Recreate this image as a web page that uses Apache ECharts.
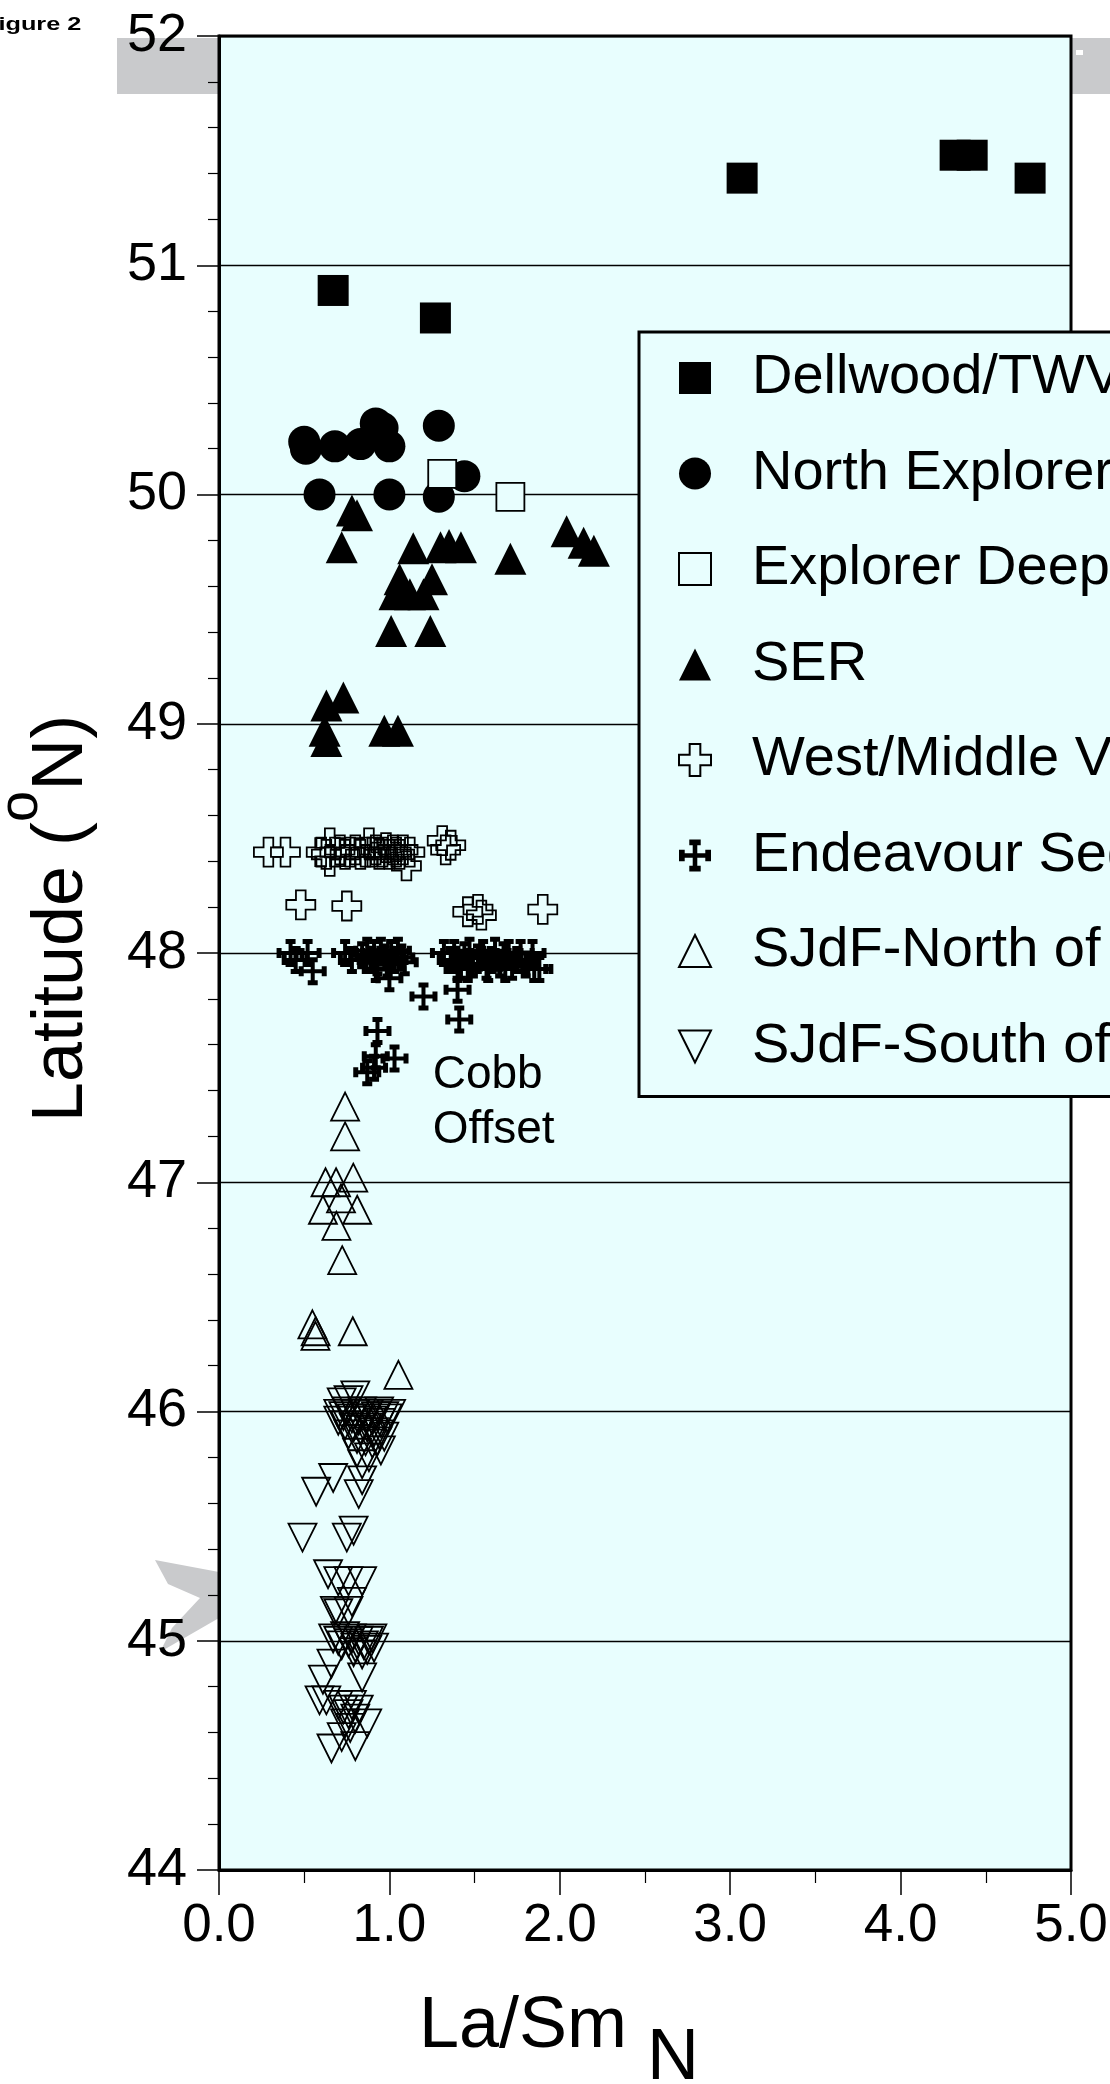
<!DOCTYPE html>
<html>
<head>
<meta charset="utf-8">
<title>Figure 2 – La/Sm N versus latitude</title>
<script src="https://cdn.jsdelivr.net/npm/echarts@6/dist/echarts.min.js"></script>
<style>
  html, body { margin: 0; padding: 0; background: #ffffff; }
  #chart { width: 1110px; height: 2084px; }
</style>
</head>
<body>
<div id="chart"></div>
<script>
// ---- data: [La/Sm N, latitude °N] ----
const dellwood = [[0.67,50.89],[1.27,50.77],[3.07,51.38],[4.32,51.48],[4.42,51.48],[4.76,51.38]];

const northExplorer = [[0.50,50.23],[0.51,50.20],[0.68,50.21],[0.83,50.22],[0.92,50.31],[0.96,50.29],
  [1.00,50.21],[1.29,50.30],[0.59,50.00],[1.00,50.00],[1.29,49.99],[1.44,50.08]];

const explorerDeep = [[1.31,50.09],[1.71,49.99]];

const ser = [[0.78,49.93],[0.81,49.91],[0.72,49.77],[1.14,49.765],[1.30,49.77],[1.35,49.78],[1.42,49.77],
  [1.71,49.72],[2.04,49.84],[2.14,49.79],[2.20,49.755],[1.06,49.63],[1.25,49.63],[1.03,49.565],[1.12,49.565],
  [1.20,49.565],[1.01,49.405],[1.24,49.405],[0.63,49.08],[0.73,49.115],[0.62,48.97],[0.63,48.925],
  [0.97,48.97],[1.05,48.97]];

const westMiddle = [[0.29,48.44],[0.39,48.44],[0.60,48.44],[0.63,48.43],[0.65,48.48],[0.65,48.40],[0.68,48.44],
  [0.71,48.45],[0.74,48.43],[0.77,48.44],[0.80,48.45],[0.83,48.43],[0.86,48.44],[0.88,48.48],[0.90,48.44],
  [0.92,48.45],[0.94,48.43],[0.96,48.44],[0.98,48.46],[1.00,48.43],[1.02,48.45],[1.04,48.44],[1.06,48.43],
  [1.08,48.45],[1.10,48.38],[1.12,48.44],[1.31,48.49],[1.33,48.45],[1.36,48.47],
  [0.48,48.21],[0.75,48.205],[1.46,48.18],[1.52,48.19],[1.54,48.165],[1.90,48.19]];

const endeavour = [[0.42,48.00],[0.52,48.00],[0.45,47.97],[0.55,47.92],[0.74,48.00],[0.78,47.97],
  [0.84,47.99],[0.87,48.01],[0.89,47.97],[0.91,48.00],[0.93,47.96],[0.95,48.01],[0.97,47.98],[0.99,47.95],
  [1.01,48.00],[1.03,47.97],[1.05,48.01],[1.07,47.98],[1.09,47.96],[1.00,47.89],[0.92,47.93],
  [1.20,47.81],[1.40,47.84],[1.41,47.71],[0.93,47.66],[1.03,47.54],[0.92,47.55],[0.87,47.48],[0.91,47.50],
  [1.32,48.00],[1.36,47.97],[1.38,48.00],[1.42,47.94],[1.44,47.99],[1.47,48.01],[1.49,47.95],[1.52,47.98],
  [1.55,48.00],[1.57,47.94],[1.60,47.97],[1.62,48.01],[1.65,47.95],[1.67,47.99],[1.70,48.00],[1.72,47.94],
  [1.75,47.97],[1.77,48.00],[1.80,47.95],[1.84,48.00],[1.85,47.93],[1.88,47.93],[1.40,47.93],[1.46,47.93],
  [1.58,47.93],[1.68,47.93]];

const sjdfNorth = [[0.74,47.33],[0.74,47.20],[0.625,47.00],[0.687,47.00],[0.788,47.02],[0.716,46.93],
  [0.61,46.88],[0.811,46.88],[0.689,46.81],[0.723,46.66],[0.548,46.38],[0.567,46.35],[0.566,46.33],
  [0.785,46.35],[1.053,46.16]];

const sjdfSouth = [[0.80,46.07],[0.72,46.04],[0.76,46.05],[0.94,46.00],[0.70,45.99],[0.73,45.98],[0.75,46.00],
  [0.78,45.97],[0.80,45.99],[0.82,45.96],[0.84,46.00],[0.86,45.97],[0.88,45.99],[0.90,45.96],[0.92,45.98],
  [0.95,45.95],[0.97,45.98],[0.99,45.97],[1.01,45.99],[0.70,45.96],[0.74,45.94],[0.79,45.93],[0.83,45.92],
  [0.87,45.93],[0.91,45.91],[0.94,45.90],[0.76,45.90],[0.81,45.88],[0.86,45.87],[0.90,45.86],[0.93,45.87],
  [0.97,45.89],[0.81,45.82],[0.95,45.83],[0.88,45.80],[0.84,45.77],[0.67,45.71],[0.84,45.70],[0.57,45.65],
  [0.82,45.64],[0.49,45.45],[0.75,45.45],[0.79,45.48],[0.64,45.29],[0.70,45.26],[0.76,45.26],[0.84,45.26],
  [0.68,45.13],[0.70,45.12],[0.76,45.13],[0.78,45.17],[0.67,45.01],[0.70,45.00],[0.72,44.98],[0.74,45.02],
  [0.76,44.99],[0.78,45.01],[0.80,44.97],[0.82,45.00],[0.85,44.98],[0.88,45.00],[0.90,45.01],[0.91,44.97],
  [0.79,44.95],[0.84,44.94],[0.87,44.96],[0.66,44.90],[0.61,44.83],[0.84,44.84],[0.59,44.74],[0.63,44.74],
  [0.70,44.72],[0.73,44.70],[0.76,44.68],[0.78,44.72],[0.80,44.66],[0.82,44.70],[0.74,44.64],[0.77,44.62],
  [0.87,44.64],[0.66,44.53],[0.80,44.54],[0.72,44.58]];

const seriesNames = ['Dellwood/TWV', 'North Explorer', 'Explorer Deep', 'SER',
  'West/Middle Valley', 'Endeavour Segment', 'SJdF-North of Axial', 'SJdF-South of Axial'];

const xTickLabels = ['0.0', '1.0', '2.0', '3.0', '4.0', '5.0'];
const yTickLabels = ['44', '45', '46', '47', '48', '49', '50', '51', '52'];

const cobbLabel = 'Cobb\nOffset';
const cobbAnchor = [1.254, 47.585];

// ---- marker shapes ----
const FONT = '"Liberation Sans", Arial, Helvetica, sans-serif';
const BG = '#e8fefe';
const SQUARE = 'path://M0,0H1V1H0Z';
const CIRCLE = 'path://M0,0.5A0.5,0.5,0,1,1,1,0.5A0.5,0.5,0,1,1,0,0.5Z';
const TRI_UP = 'path://M0.5,0L1,1H0Z';
const TRI_DOWN = 'path://M0,0H1L0.5,1Z';
const OPEN_CROSS = 'path://M10,0H20V10H30V20H20V30H10V20H0V10H10Z';
const CROSS_POTENT = 'path://M9,0H19V5H16V12H23V9H28V19H23V16H16V23H19V28H9V23H12V16H5V19H0V9H5V12H12V5H9Z';

const solid = { color: '#000', borderColor: '#000', borderWidth: 0, opacity: 1 };
const hollow = { color: 'transparent', borderColor: '#000', borderWidth: 1.8, opacity: 1 };

function scatter(name, data, symbol, size, itemStyle) {
  return { type: 'scatter', name, data, symbol, symbolSize: size, itemStyle,
           emphasis: { disabled: true }, silent: true };
}

const chart = echarts.init(document.getElementById('chart'), null, { renderer: 'canvas' });

const option = {
  animation: false,
  backgroundColor: '#ffffff',
  textStyle: { fontFamily: FONT },
  graphic: [
    { id: 'band', type: 'rect', z: -5, shape: { x: 117, y: 38, width: 993, height: 56 },
      style: { fill: '#c9cacc' } },
    { id: 'bandMark', type: 'rect', z: -5, shape: { x: 1076, y: 50, width: 7, height: 5 },
      style: { fill: '#ffffff' } },
    { id: 'chevron', type: 'polygon', z: -5,
      shape: { points: [[155,1560],[219,1572],[219,1618],[160,1652],[172,1628],[200,1598],[168,1584]] },
      style: { fill: '#c9cacc' } },
    { id: 'figLabel', type: 'text', x: -17, y: 15, scaleX: 1.33,
      style: { text: 'Figure 2', font: 'bold 19px ' + FONT, fill: '#000' } }
  ],
  grid: { left: 219, top: 36, width: 852, height: 1834, show: true,
          containLabel: false, outerBoundsMode: 'none',
          backgroundColor: BG, borderColor: '#000', borderWidth: 3 },
  legend: {
    orient: 'vertical', left: 639, top: 332,
    data: seriesNames,
    itemWidth: 104, itemHeight: 32, itemGap: 39.5,
    padding: [18, 40, 22, 39],
    backgroundColor: BG, borderColor: '#000', borderWidth: 3,
    textStyle: { fontSize: 56, lineHeight: 56, color: '#000', fontFamily: FONT },
    selectedMode: false
  },
  xAxis: {
    type: 'value', min: 0, max: 5, interval: 1,
    name: '{m|La/Sm }{s|N}', nameLocation: 'middle', nameGap: 89,
    nameTextStyle: { color: '#000', fontSize: 72, fontFamily: FONT, padding: [0, 172, 0, 0],
      rich: { m: { fontSize: 72, fontFamily: FONT, color: '#000' },
              s: { fontSize: 72, fontFamily: FONT, color: '#000', padding: [64, 0, 0, 0] } } },
    axisLine: { show: true, lineStyle: { color: '#000', width: 3 } },
    axisTick: { show: true, length: 25, lineStyle: { color: '#000', width: 1.5 } },
    minorTick: { show: true, splitNumber: 2, length: 13, lineStyle: { color: '#000', width: 1.2 } },
    splitLine: { show: false },
    axisLabel: { fontSize: 53, color: '#000', fontFamily: FONT, margin: 30,
                 formatter: v => xTickLabels[Math.round(v)] }
  },
  yAxis: {
    type: 'value', min: 44, max: 52, interval: 1,
    name: '{m|Latitude (}{s|o}{m|N)}', nameLocation: 'middle', nameGap: 88,
    nameTextStyle: { color: '#000', fontSize: 72, fontFamily: FONT, padding: [0, 0, 0, 69],
      rich: { m: { fontSize: 72, fontFamily: FONT, color: '#000' },
              s: { fontSize: 56, fontFamily: FONT, color: '#000', padding: [0, 0, 81, 0] } } },
    axisLine: { show: true, lineStyle: { color: '#000', width: 3 } },
    axisTick: { show: true, length: 22, lineStyle: { color: '#000', width: 1.5 } },
    minorTick: { show: true, splitNumber: 5, length: 11, lineStyle: { color: '#000', width: 1.2 } },
    splitLine: { show: true, lineStyle: { color: '#000', width: 1.3 } },
    axisLabel: { fontSize: 54, color: '#000', fontFamily: FONT, margin: 32,
                 formatter: v => yTickLabels[Math.round(v - 44)] }
  },
  series: [
    scatter(seriesNames[0], dellwood, SQUARE, 31, solid),
    scatter(seriesNames[1], northExplorer, CIRCLE, 32, solid),
    scatter(seriesNames[2], explorerDeep, SQUARE, 28, { color: BG, borderColor: '#000', borderWidth: 1.8, opacity: 1 }),
    scatter(seriesNames[3], ser, TRI_UP, 32, solid),
    scatter(seriesNames[4], westMiddle, OPEN_CROSS, 29, hollow),
    scatter(seriesNames[5], endeavour, CROSS_POTENT, 28, solid),
    scatter(seriesNames[6], sjdfNorth, TRI_UP, 28, hollow),
    scatter(seriesNames[7], sjdfSouth, TRI_DOWN, 28, hollow)
  ]
};

chart.setOption(option);

// "Cobb Offset" annotation, anchored in data space
const cobbPx = chart.convertToPixel({ gridIndex: 0 }, cobbAnchor);
chart.setOption({
  graphic: [
    { id: 'cobb', type: 'text', x: cobbPx[0], y: cobbPx[1],
      style: { text: cobbLabel, font: '46px ' + FONT, fill: '#000', lineHeight: 55,
               align: 'left', verticalAlign: 'top' } }
  ]
});
</script>
</body>
</html>
